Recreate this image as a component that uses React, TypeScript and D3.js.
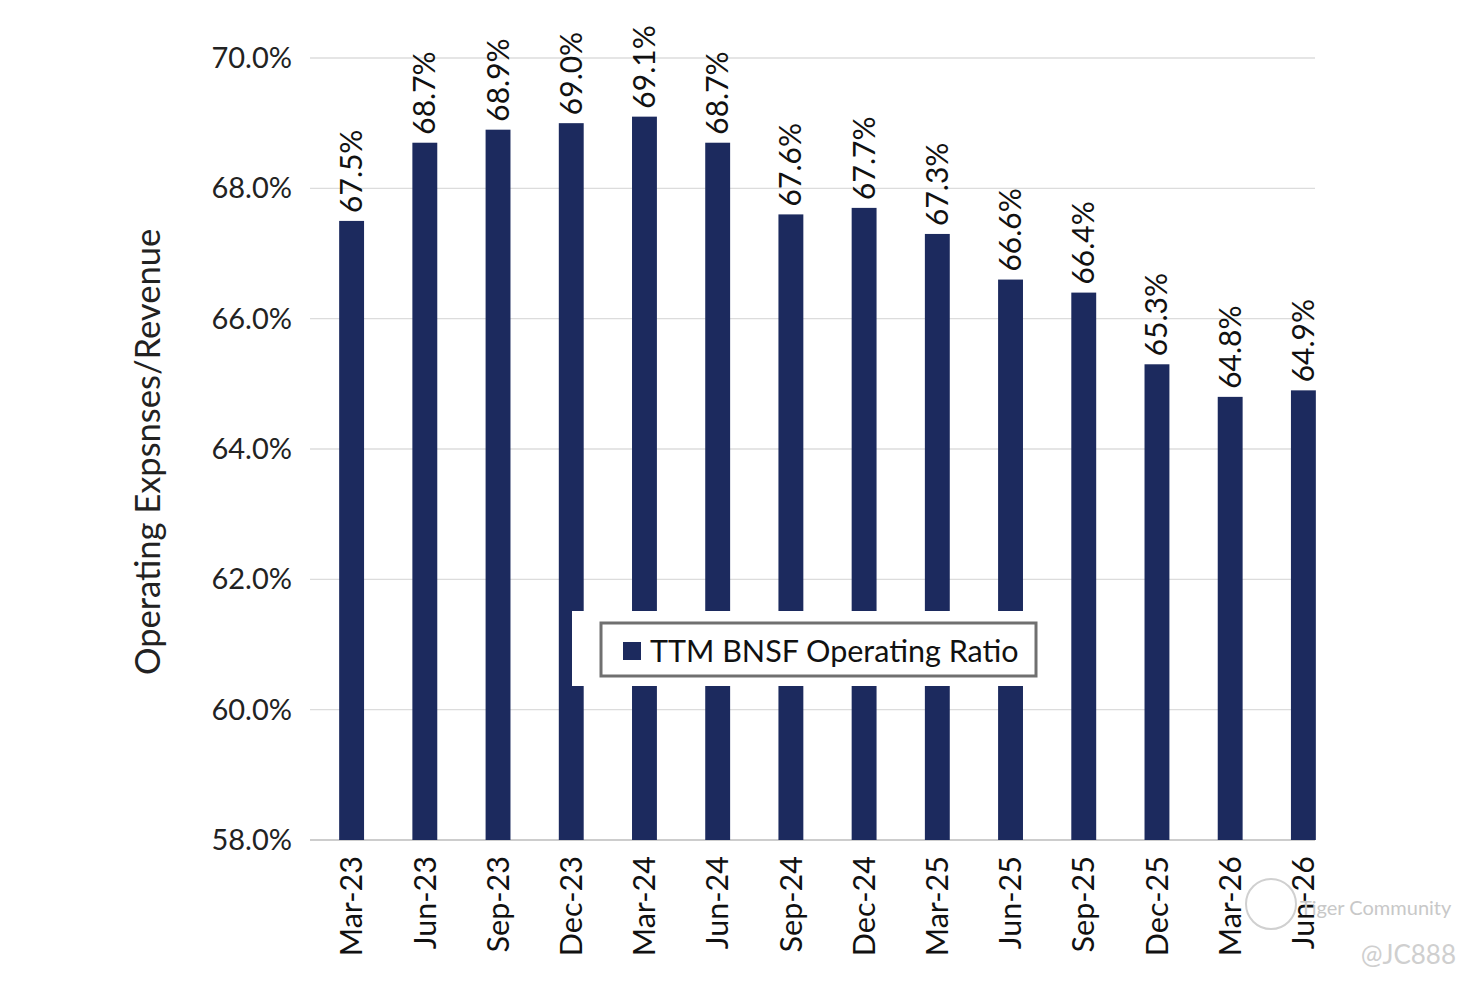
import * as d3 from "d3";

const quarters = [
  "Mar-23", "Jun-23", "Sep-23", "Dec-23", "Mar-24", "Jun-24", "Sep-24",
  "Dec-24", "Mar-25", "Jun-25", "Sep-25", "Dec-25", "Mar-26", "Jun-26",
];
const ratios = [67.5, 68.7, 68.9, 69.0, 69.1, 68.7, 67.6, 67.7, 67.3, 66.6, 66.4, 65.3, 64.8, 64.9];
const yTicks = [58, 60, 62, 64, 66, 68, 70];

const W = 1484;
const H = 988;
const FONT = "Lato, 'Open Sans', sans-serif";
const BAR = "#1c2a5e";

export default function App() {
  const x = d3.scaleBand<string>().domain(quarters).range([315, 1340]).paddingInner(0.66).paddingOuter(0.33);
  const y = d3.scaleLinear().domain([58, 70]).range([840, 58]);
  const fmt = d3.format(".1f");

  return (
    <svg width={W} height={H} style={{ display: "block", position: "absolute", left: 0, top: 0, background: "#fff" }}>
      <rect width={W} height={H} fill="#fff" />
      {/* gridlines */}
      {yTicks.map((t) => (
        <line key={t} x1={310} x2={1315} y1={y(t)} y2={y(t)} stroke={t === 58 ? "#bdbdbd" : "#dcdcdc"} strokeWidth={1.3} />
      ))}
      {/* y tick labels */}
      {yTicks.map((t) => (
        <text key={t} x={292} y={y(t)} dy="0.35em" textAnchor="end" fontFamily={FONT} fontSize={29} fill="#222">
          {fmt(t)}%
        </text>
      ))}
      <text
        transform={`translate(160,452) rotate(-90)`}
        textAnchor="middle"
        fontFamily={FONT}
        fontSize={34.5}
        fill="#222"
      >
        Operating Expsnses/Revenue
      </text>
      {/* bars */}
      {quarters.map((q, i) => (
        <rect key={q} x={x(q)} y={y(ratios[i])} width={x.bandwidth()} height={y(58) - y(ratios[i])} fill={BAR} />
      ))}
      {/* value labels */}
      {quarters.map((q, i) => (
        <text
          key={q}
          transform={`translate(${x(q)! + x.bandwidth() / 2},${y(ratios[i]) - 8}) rotate(-90)`}
          dy="0.35em"
          fontFamily={FONT}
          fontSize={30}
          fill="#111"
        >
          {fmt(ratios[i])}%
        </text>
      ))}
      {/* x labels */}
      {quarters.map((q) => (
        <text
          key={q}
          transform={`translate(${x(q)! + x.bandwidth() / 2},856) rotate(-90)`}
          dy="0.35em"
          textAnchor="end"
          fontFamily={FONT}
          fontSize={30.5}
          fill="#111"
        >
          {q}
        </text>
      ))}
      {/* legend */}
      <rect x={572} y={611} width={468} height={75} fill="#fff" />
      <rect x={601} y={623} width={435} height={53} fill="#fff" stroke="#707070" strokeWidth={3} />
      <rect x={623} y={642} width={18} height={18} fill={BAR} />
      <text x={650} y={651} dy="0.35em" fontFamily={FONT} fontSize={30.5} fill="#111">
        TTM BNSF Operating Ratio
      </text>
      {/* watermark */}
      <circle cx={1271} cy={904} r={25} fill="none" stroke="#d0d0d0" strokeWidth={2} />
      <text x={1300} y={908} dy="0.35em" fontFamily={FONT} fontSize={20} fill="#c8c8c8">
        Tiger Community
      </text>
      <text x={1456} y={955} dy="0.35em" textAnchor="end" fontFamily={FONT} fontSize={26} fill="#cfcfcf">
        @JC888
      </text>
    </svg>
  );
}
